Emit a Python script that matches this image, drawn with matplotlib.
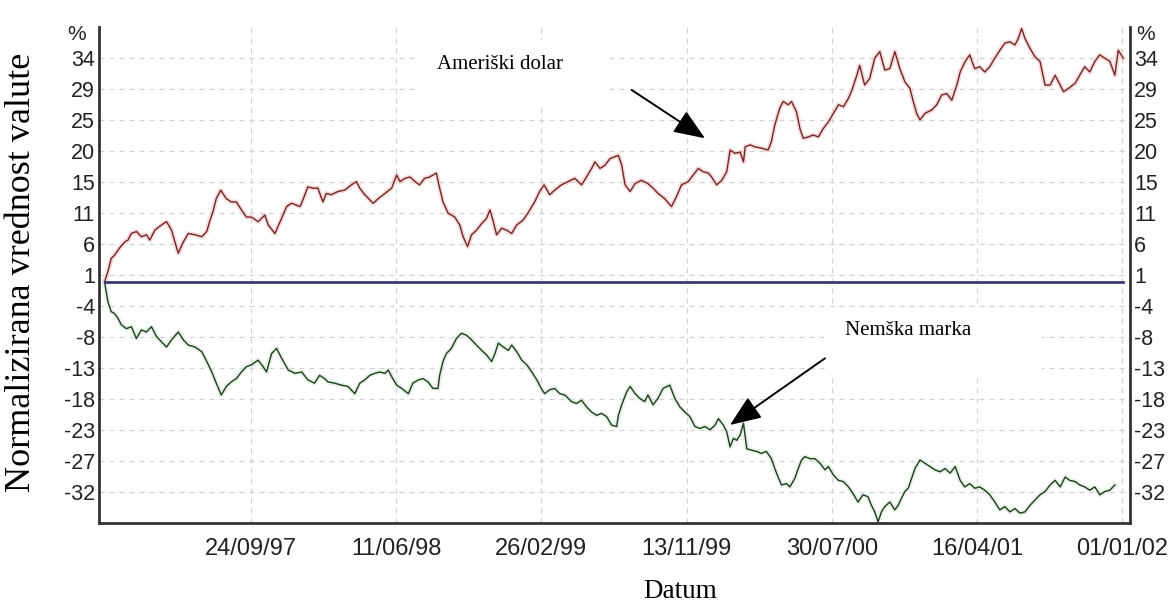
import matplotlib
matplotlib.use('Agg')
import matplotlib.pyplot as plt
import matplotlib.patches as mpatches
import pandas as pd

start = pd.Timestamp('1997-01-01')

# days since 1997-01-01 and normalized value (%)
usd_day = [4, 10, 16, 22, 31, 40, 46, 52, 61, 70, 79, 85, 94, 106, 115, 124, 130, 136, 145, 154,
           166, 178, 187, 192, 198, 204, 212, 222, 231, 240, 249, 258, 267, 279, 291, 297, 309, 321, 330, 339,
           348, 354, 360, 368, 377, 386, 395, 401, 410, 422, 434, 446, 455, 461, 470, 485, 494, 506, 518, 527,
           533, 542, 551, 560, 568, 577, 586, 598, 604, 610, 619, 631, 640, 646, 654, 661, 670, 679, 688, 694,
           700, 706, 715, 724, 733, 742, 753, 762, 774, 783, 791, 801, 810, 822, 834, 846, 858, 867, 876, 882,
           891, 900, 909, 918, 924, 930, 936, 945, 954, 965, 977, 986, 995, 1007, 1019, 1028, 1037, 1049, 1058, 1067,
           1076, 1085, 1091, 1100, 1109, 1118, 1124, 1133, 1142, 1148, 1151, 1160, 1168, 1180, 1192, 1198, 1204, 1213, 1219, 1228,
           1234, 1243, 1249, 1255, 1264, 1273, 1282, 1291, 1300, 1309, 1318, 1327, 1336, 1342, 1351, 1356, 1365, 1374, 1383, 1392,
           1401, 1410, 1419, 1428, 1437, 1446, 1452, 1458, 1464, 1473, 1485, 1494, 1503, 1512, 1521, 1530, 1536, 1545, 1553, 1562,
           1571, 1580, 1589, 1598, 1607, 1616, 1625, 1634, 1640, 1646, 1652, 1661, 1670, 1679, 1688, 1697, 1706, 1712, 1721, 1730,
           1742, 1750, 1759, 1768, 1777, 1786, 1795, 1804, 1813, 1819, 1828]
usd_pct = [0.0, 1.6, 3.6, 4.1, 5.2, 6.1, 6.4, 7.4, 7.7, 6.9, 7.2, 6.4, 7.9, 8.7, 9.2, 7.9, 6.1, 4.4, 6.1, 7.4,
           7.2, 6.9, 7.7, 9.2, 10.7, 12.7, 14.0, 12.7, 12.2, 12.2, 11.0, 9.9, 9.9, 9.2, 10.2, 8.7, 7.4, 9.7, 11.5, 12.0,
           11.7, 11.5, 12.7, 14.5, 14.3, 14.3, 12.2, 13.5, 13.3, 13.8, 14.0, 14.8, 15.3, 14.3, 13.3, 12.0, 12.7, 13.5, 14.3, 16.3,
           15.3, 15.8, 16.0, 15.3, 14.8, 15.8, 16.0, 16.6, 14.3, 12.2, 10.5, 9.9, 8.7, 6.9, 5.4, 7.2, 7.9, 8.9, 9.7, 11.0,
           9.2, 7.2, 8.2, 7.9, 7.4, 8.7, 9.4, 10.5, 12.2, 13.8, 14.8, 13.3, 14.0, 14.8, 15.3, 15.8, 14.8, 16.0, 17.3, 18.3,
           17.3, 17.8, 18.8, 19.1, 19.3, 17.8, 14.8, 13.8, 15.0, 15.5, 15.0, 14.3, 13.5, 12.7, 11.5, 13.0, 14.8, 15.3, 16.3, 17.3,
           16.8, 16.6, 16.0, 14.8, 15.5, 16.8, 20.1, 19.6, 19.8, 18.3, 20.6, 20.9, 20.6, 20.4, 20.1, 21.4, 23.9, 26.5, 27.5, 27.0,
           27.5, 25.9, 23.4, 21.9, 22.1, 22.4, 22.1, 23.4, 24.4, 25.7, 27.0, 26.7, 28.0, 29.2, 31.5, 33.0, 30.0, 31.0, 34.1, 35.1,
           32.3, 32.5, 35.1, 32.5, 30.5, 29.5, 27.5, 25.7, 24.7, 25.7, 26.2, 27.0, 28.5, 28.7, 27.7, 30.0, 32.0, 33.6, 34.6, 32.5,
           32.8, 32.0, 32.8, 34.1, 35.3, 36.4, 36.6, 36.1, 37.1, 38.6, 37.1, 35.6, 34.3, 33.6, 30.0, 30.0, 31.5, 30.5, 29.0, 29.5,
           30.3, 31.5, 32.8, 32.0, 33.6, 34.6, 34.1, 33.6, 31.5, 35.3, 34.1]

dem_day = [4, 10, 16, 22, 28, 34, 43, 52, 61, 70, 79, 88, 97, 106, 115, 124, 136, 145, 154, 166,
           178, 187, 196, 204, 213, 222, 231, 240, 249, 258, 267, 279, 288, 294, 303, 312, 321, 333, 345, 357,
           368, 380, 389, 398, 404, 416, 428, 440, 452, 461, 470, 479, 488, 497, 506, 512, 518, 527, 536, 548,
           556, 566, 574, 583, 592, 601, 604, 610, 616, 625, 634, 643, 652, 661, 670, 679, 688, 697, 703, 709,
           718, 727, 733, 742, 751, 760, 769, 778, 786, 792, 801, 810, 819, 828, 840, 849, 858, 867, 876, 885,
           894, 903, 912, 921, 924, 930, 939, 945, 954, 962, 971, 977, 986, 995, 1004, 1016, 1025, 1034, 1043, 1052,
           1061, 1070, 1079, 1088, 1097, 1103, 1112, 1118, 1124, 1130, 1136, 1142, 1148, 1154, 1162, 1172, 1180, 1189, 1198, 1204,
           1210, 1216, 1225, 1231, 1240, 1246, 1252, 1258, 1267, 1276, 1285, 1294, 1300, 1309, 1318, 1327, 1336, 1344, 1353, 1362,
           1371, 1377, 1383, 1389, 1395, 1401, 1410, 1419, 1425, 1431, 1437, 1443, 1449, 1455, 1464, 1473, 1482, 1491, 1500, 1509,
           1518, 1527, 1536, 1544, 1553, 1562, 1571, 1580, 1589, 1598, 1607, 1616, 1625, 1634, 1643, 1652, 1661, 1670, 1679, 1688,
           1697, 1706, 1715, 1724, 1732, 1742, 1750, 1759, 1768, 1777, 1786, 1795, 1804, 1813]
dem_pct = [0.0, -3.0, -4.5, -4.8, -5.5, -6.5, -7.1, -6.8, -8.6, -7.3, -7.6, -6.8, -8.3, -9.1, -9.9, -8.8, -7.6, -8.8, -9.6, -9.9,
           -10.6, -12.1, -13.7, -15.4, -17.2, -15.9, -15.2, -14.7, -13.7, -12.9, -12.6, -11.9, -12.9, -13.7, -10.9, -10.1, -11.6, -13.4, -13.9, -13.7,
           -14.9, -15.4, -14.2, -14.7, -15.2, -15.4, -15.7, -15.9, -17.0, -15.4, -14.9, -14.2, -13.9, -13.7, -13.9, -13.4, -14.4, -15.7, -16.2, -17.0,
           -15.4, -14.9, -14.7, -15.2, -16.2, -16.2, -14.2, -12.1, -10.9, -10.1, -8.6, -7.8, -8.1, -8.8, -9.6, -10.4, -11.1, -12.1, -10.9, -9.3,
           -9.9, -10.4, -9.6, -10.6, -11.9, -12.6, -13.7, -14.9, -16.2, -17.0, -16.4, -16.2, -17.0, -17.2, -18.2, -18.5, -18.0, -19.0, -19.8, -20.3,
           -20.0, -20.5, -21.8, -22.0, -20.3, -18.7, -16.7, -15.9, -17.0, -17.7, -18.2, -17.2, -18.7, -17.7, -16.2, -15.7, -17.7, -19.0, -19.8, -20.5,
           -22.0, -22.3, -22.0, -22.5, -21.8, -20.8, -21.8, -22.8, -25.1, -23.8, -24.1, -23.3, -21.5, -25.4, -25.6, -25.8, -26.1, -25.8, -26.9, -28.4,
           -29.7, -30.9, -30.7, -31.2, -29.9, -28.4, -27.1, -26.6, -26.9, -26.9, -27.6, -28.6, -28.1, -29.4, -30.2, -30.4, -31.2, -32.2, -33.5, -32.4,
           -32.7, -34.0, -35.0, -36.5, -35.0, -34.2, -33.5, -34.7, -34.0, -32.9, -31.9, -31.4, -29.9, -28.4, -27.1, -27.6, -28.1, -28.6, -28.9, -28.4,
           -29.1, -28.1, -30.2, -31.2, -30.7, -31.4, -31.2, -31.7, -32.4, -33.5, -34.7, -34.2, -35.0, -34.5, -35.2, -35.0, -34.0, -33.2, -32.4, -31.9,
           -30.9, -30.2, -31.2, -29.7, -30.2, -30.4, -30.9, -31.2, -31.7, -31.2, -32.4, -31.9, -31.7, -30.9]

x_ticks = ['1997-09-24', '1998-06-11', '1999-02-26', '1999-11-13', '2000-07-30', '2001-04-16', '2002-01-01']
x_labels = ['24/09/97', '11/06/98', '26/02/99', '13/11/99', '30/07/00', '16/04/01', '01/01/02']
y_ticks = [34.12, 29.40, 24.68, 19.96, 15.24, 10.52, 5.80, 1.08, -3.64, -8.36, -13.08, -17.80, -22.52, -27.24, -31.96]
y_labels = ['34', '29', '25', '20', '15', '11', '6', '1', '-4', '-8', '-13', '-18', '-23', '-27', '-32']

usd_dates = start + pd.to_timedelta(usd_day, unit='D')
dem_dates = start + pd.to_timedelta(dem_day, unit='D')

fig = plt.figure(figsize=(11.74, 6.05), dpi=100)
ax = fig.add_axes([0.0843, 0.1355, 0.8782, 0.8199])

grid = dict(color='#d2d2d2', lw=0.9, dashes=(4, 4), zorder=1)
for t in y_ticks:
    ax.axhline(t, **grid)
for t in x_ticks:
    ax.axvline(pd.Timestamp(t), **grid)

ax.plot(usd_dates, usd_pct, color='#f3c4c4', lw=3.5, alpha=0.6, zorder=2)
ax.plot(usd_dates, usd_pct, color='#6e2626', lw=1.0, zorder=3)
ax.plot(dem_dates, dem_pct, color='#d4ead4', lw=3.5, alpha=0.6, zorder=2)
ax.plot(dem_dates, dem_pct, color='#1f3a1f', lw=1.0, zorder=3)
ax.plot([usd_dates[0], usd_dates[-1]], [0, 0], color='#3a3a6e', lw=2.0, zorder=4)

ax.set_xlim(pd.Timestamp('1996-12-26'), pd.Timestamp('2002-01-15'))
ax.set_ylim(-36.7, 38.85)

ax.set_xticks([pd.Timestamp(t) for t in x_ticks])
ax.set_xticklabels(x_labels, fontsize=17, family='Liberation Sans')
ax.set_yticks(y_ticks)
ax.set_yticklabels(y_labels, fontsize=15.5, family='Liberation Sans')
ax.tick_params(axis='both', length=0, colors='#222222')
ax.tick_params(axis='x', pad=11)
ax.tick_params(axis='y', pad=3, labelright=True)

ax.spines['top'].set_visible(False)
for s in ['left', 'right', 'bottom']:
    ax.spines[s].set_linewidth(2.0)
    ax.spines[s].set_color('#333333')

ax.text(-0.013, 0.985, '%', transform=ax.transAxes, ha='right', va='center',
        fontsize=15, family='Liberation Sans', color='#222222')
ax.text(1.006, 0.985, '%', transform=ax.transAxes, ha='left', va='center',
        fontsize=15, family='Liberation Sans', color='#222222')

# white boxes behind the labels
ax.add_patch(mpatches.Rectangle((0.3084, 0.8427), 0.1872, 0.131, transform=ax.transAxes,
                                facecolor='white', edgecolor='none', zorder=1.5))
ax.add_patch(mpatches.Rectangle((0.7042, 0.2923), 0.2105, 0.1431, transform=ax.transAxes,
                                facecolor='white', edgecolor='none', zorder=1.5))

ax.text(0.3278, 0.9234, 'Ameriški dolar', transform=ax.transAxes, ha='left', va='center',
        fontsize=15, family='Liberation Serif', zorder=6)
ax.text(0.7236, 0.3891, 'Nemška marka', transform=ax.transAxes, ha='left', va='center',
        fontsize=15, family='Liberation Serif', zorder=6)

arrow = dict(arrowstyle='-|>,head_length=0.8,head_width=0.32', mutation_scale=24,
             lw=1.4, color='black', shrinkA=0, shrinkB=0)
ax.annotate('', xy=(0.5878, 0.7756), xytext=(0.5167, 0.8730), xycoords='axes fraction',
            textcoords='axes fraction', arrowprops=arrow, zorder=6)
ax.annotate('', xy=(0.6120, 0.1976), xytext=(0.7042, 0.3321), xycoords='axes fraction',
            textcoords='axes fraction', arrowprops=arrow, zorder=6)

fig.text(0.0187, 0.55, 'Normalizirana vrednost valute', rotation=90, ha='center', va='center',
         fontsize=26, family='Liberation Serif')
fig.text(0.579, 0.022, 'Datum', ha='center', va='center', fontsize=19.5, family='Liberation Serif')

fig.savefig('out.png', dpi=100)
